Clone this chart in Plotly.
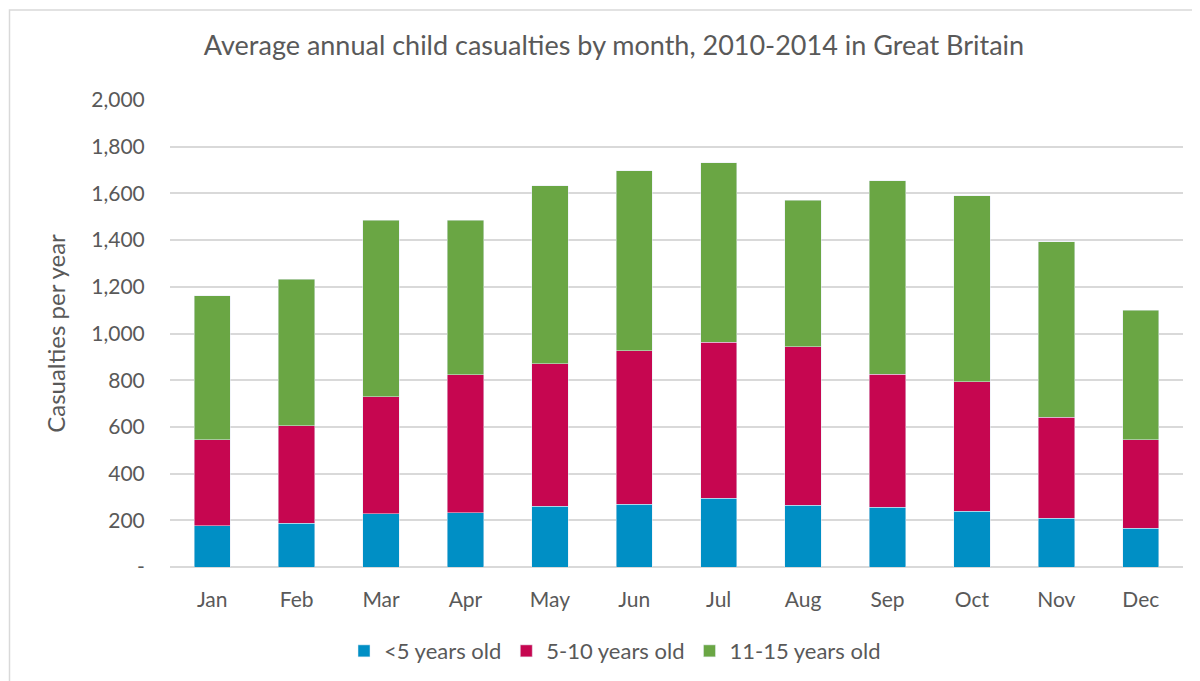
import plotly.graph_objects as go

months = ['Jan', 'Feb', 'Mar', 'Apr', 'May', 'Jun', 'Jul', 'Aug', 'Sep', 'Oct', 'Nov', 'Dec']
under5 = [177, 188, 228, 232, 260, 269, 295, 265, 256, 239, 208, 167]
age5_10 = [368, 417, 501, 591, 610, 657, 668, 678, 569, 554, 434, 377]
age11_15 = [616, 627, 755, 661, 762, 772, 769, 627, 830, 798, 752, 556]
y_ticks = [0, 200, 400, 600, 800, 1000, 1200, 1400, 1600, 1800, 2000]
y_labels = ['-', '200', '400', '600', '800', '1,000', '1,200', '1,400', '1,600', '1,800', '2,000']

fig = go.Figure()
fig.add_trace(go.Bar(x=months, y=under5, name='<5 years old', marker_color='#008fc5'))
fig.add_trace(go.Bar(x=months, y=age5_10, name='5-10 years old', marker_color='#c60650'))
fig.add_trace(go.Bar(x=months, y=age11_15, name='11-15 years old', marker_color='#6aa644'))

# page has an 8px body margin, so margins are shifted accordingly
fig.update_layout(
    barmode='stack',
    bargap=0.57,
    width=1200, height=681,
    margin=dict(l=162, r=25, t=92, b=122),
    paper_bgcolor='white', plot_bgcolor='white',
    font=dict(family='Lato', color='#595959', size=21),
    title=dict(text='Average annual child casualties by month, 2010-2014 in Great Britain',
               x=0.505, xanchor='center', y=0.945, yanchor='middle',
               font=dict(size=27, color='#595959')),
    legend=dict(orientation='h', x=(615 - 170) / 1013, xanchor='center', y=-0.18, yanchor='middle',
                font=dict(size=22), traceorder='normal'),
    showlegend=True,
)
fig.update_xaxes(showgrid=False, showline=False, ticks='outside', ticklen=14,
                 tickcolor='rgba(0,0,0,0)', tickfont=dict(size=21))
fig.update_yaxes(range=[0, 2000], tickvals=y_ticks, ticktext=y_labels,
                 showgrid=True, gridcolor='#d9d9d9', gridwidth=1.5,
                 zeroline=True, zerolinecolor='#d9d9d9', zerolinewidth=1.5,
                 ticks='outside', ticklen=20, tickcolor='rgba(0,0,0,0)',
                 tickfont=dict(size=21),
                 title=dict(text='Casualties per year', font=dict(size=24), standoff=18))

# light border around the chart area
fig.add_shape(type='rect', xref='paper', yref='paper',
              x0=(9.5 - 170) / 1013, x1=(1196 - 170) / 1013,
              y0=(567 - 700) / 467, y1=(567 - 10) / 467,
              line=dict(color='#d9d9d9', width=1.5), fillcolor='rgba(0,0,0,0)', layer='below')

fig.write_html("out.html")
